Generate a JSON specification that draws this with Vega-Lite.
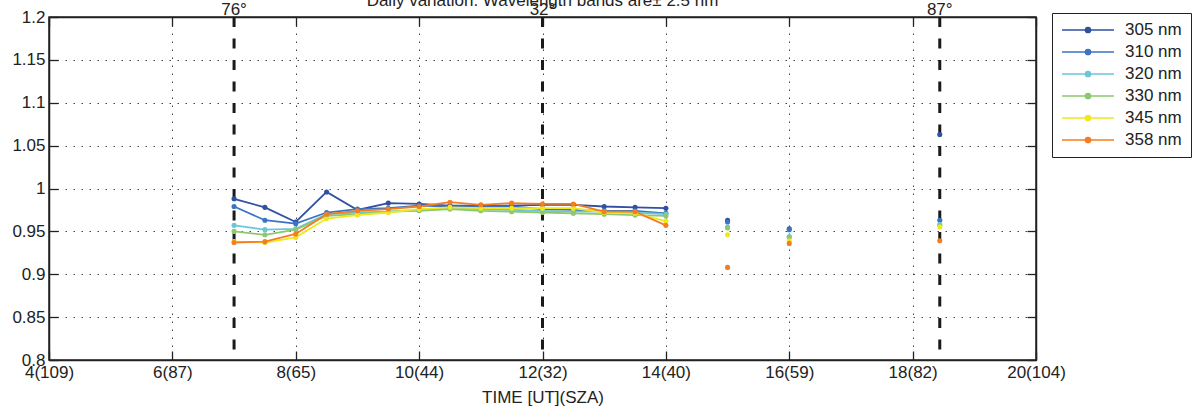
{
  "$schema": "https://vega.github.io/schema/vega-lite/v6.json",
  "width": 987,
  "height": 343,
  "autosize": "none",
  "padding": {"left": 49, "top": 17, "right": 156, "bottom": 52},
  "background": "white",
  "title": {"text": "Daily variation: Wavelength bands are± 2.5 nm", "fontSize": 17, "fontWeight": "normal", "font": "Liberation Sans", "color": "#222", "offset": -9, "anchor": "middle"},
  "config": {
    "font": "Liberation Sans",
    "view": {"stroke": "#222", "strokeWidth": 1.5},
    "axis": {"domainColor": "#222", "domainWidth": 1.5, "tickColor": "#222", "tickWidth": 1.3, "tickSize": -9, "labelColor": "#222", "labelFontSize": 17, "labelFlush": false, "titleFontSize": 17, "titleFontWeight": "normal", "titleColor": "#222", "gridColor": "#444", "gridDash": [1.5, 6.5], "gridWidth": 1, "gridOpacity": 1}
  },
  "datasets": {
    "series": [
      {"t": 7, "band": "305 nm", "v": 0.988}, {"t": 7, "band": "310 nm", "v": 0.979}, {"t": 7, "band": "320 nm", "v": 0.957}, {"t": 7, "band": "330 nm", "v": 0.950}, {"t": 7, "band": "345 nm", "v": 0.938}, {"t": 7, "band": "358 nm", "v": 0.937},
      {"t": 7.5, "band": "305 nm", "v": 0.978}, {"t": 7.5, "band": "310 nm", "v": 0.963}, {"t": 7.5, "band": "320 nm", "v": 0.952}, {"t": 7.5, "band": "330 nm", "v": 0.946}, {"t": 7.5, "band": "345 nm", "v": 0.937}, {"t": 7.5, "band": "358 nm", "v": 0.938},
      {"t": 8, "band": "305 nm", "v": 0.961}, {"t": 8, "band": "310 nm", "v": 0.959}, {"t": 8, "band": "320 nm", "v": 0.953}, {"t": 8, "band": "330 nm", "v": 0.952}, {"t": 8, "band": "345 nm", "v": 0.943}, {"t": 8, "band": "358 nm", "v": 0.947},
      {"t": 8.5, "band": "305 nm", "v": 0.996}, {"t": 8.5, "band": "310 nm", "v": 0.972}, {"t": 8.5, "band": "320 nm", "v": 0.970}, {"t": 8.5, "band": "330 nm", "v": 0.968}, {"t": 8.5, "band": "345 nm", "v": 0.965}, {"t": 8.5, "band": "358 nm", "v": 0.970},
      {"t": 9, "band": "305 nm", "v": 0.975}, {"t": 9, "band": "310 nm", "v": 0.976}, {"t": 9, "band": "320 nm", "v": 0.972}, {"t": 9, "band": "330 nm", "v": 0.970}, {"t": 9, "band": "345 nm", "v": 0.969}, {"t": 9, "band": "358 nm", "v": 0.974},
      {"t": 9.5, "band": "305 nm", "v": 0.983}, {"t": 9.5, "band": "310 nm", "v": 0.977}, {"t": 9.5, "band": "320 nm", "v": 0.973}, {"t": 9.5, "band": "330 nm", "v": 0.973}, {"t": 9.5, "band": "345 nm", "v": 0.972}, {"t": 9.5, "band": "358 nm", "v": 0.976},
      {"t": 10, "band": "305 nm", "v": 0.982}, {"t": 10, "band": "310 nm", "v": 0.980}, {"t": 10, "band": "320 nm", "v": 0.975}, {"t": 10, "band": "330 nm", "v": 0.974}, {"t": 10, "band": "345 nm", "v": 0.976}, {"t": 10, "band": "358 nm", "v": 0.979},
      {"t": 10.5, "band": "305 nm", "v": 0.980}, {"t": 10.5, "band": "310 nm", "v": 0.979}, {"t": 10.5, "band": "320 nm", "v": 0.977}, {"t": 10.5, "band": "330 nm", "v": 0.976}, {"t": 10.5, "band": "345 nm", "v": 0.978}, {"t": 10.5, "band": "358 nm", "v": 0.984},
      {"t": 11, "band": "305 nm", "v": 0.980}, {"t": 11, "band": "310 nm", "v": 0.979}, {"t": 11, "band": "320 nm", "v": 0.976}, {"t": 11, "band": "330 nm", "v": 0.974}, {"t": 11, "band": "345 nm", "v": 0.977}, {"t": 11, "band": "358 nm", "v": 0.981},
      {"t": 11.5, "band": "305 nm", "v": 0.980}, {"t": 11.5, "band": "310 nm", "v": 0.979}, {"t": 11.5, "band": "320 nm", "v": 0.975}, {"t": 11.5, "band": "330 nm", "v": 0.973}, {"t": 11.5, "band": "345 nm", "v": 0.977}, {"t": 11.5, "band": "358 nm", "v": 0.983},
      {"t": 12, "band": "305 nm", "v": 0.981}, {"t": 12, "band": "310 nm", "v": 0.976}, {"t": 12, "band": "320 nm", "v": 0.974}, {"t": 12, "band": "330 nm", "v": 0.972}, {"t": 12, "band": "345 nm", "v": 0.977}, {"t": 12, "band": "358 nm", "v": 0.982},
      {"t": 12.5, "band": "305 nm", "v": 0.981}, {"t": 12.5, "band": "310 nm", "v": 0.975}, {"t": 12.5, "band": "320 nm", "v": 0.973}, {"t": 12.5, "band": "330 nm", "v": 0.971}, {"t": 12.5, "band": "345 nm", "v": 0.977}, {"t": 12.5, "band": "358 nm", "v": 0.982},
      {"t": 13, "band": "305 nm", "v": 0.979}, {"t": 13, "band": "310 nm", "v": 0.974}, {"t": 13, "band": "320 nm", "v": 0.973}, {"t": 13, "band": "330 nm", "v": 0.970}, {"t": 13, "band": "345 nm", "v": 0.972}, {"t": 13, "band": "358 nm", "v": 0.973},
      {"t": 13.5, "band": "305 nm", "v": 0.978}, {"t": 13.5, "band": "310 nm", "v": 0.974}, {"t": 13.5, "band": "320 nm", "v": 0.972}, {"t": 13.5, "band": "330 nm", "v": 0.969}, {"t": 13.5, "band": "345 nm", "v": 0.971}, {"t": 13.5, "band": "358 nm", "v": 0.973},
      {"t": 14, "band": "305 nm", "v": 0.977}, {"t": 14, "band": "310 nm", "v": 0.971}, {"t": 14, "band": "320 nm", "v": 0.970}, {"t": 14, "band": "330 nm", "v": 0.968}, {"t": 14, "band": "345 nm", "v": 0.962}, {"t": 14, "band": "358 nm", "v": 0.957},
      {"t": 15, "band": "305 nm", "v": 0.963}, {"t": 15, "band": "310 nm", "v": 0.961}, {"t": 15, "band": "320 nm", "v": 0.955}, {"t": 15, "band": "330 nm", "v": 0.954}, {"t": 15, "band": "345 nm", "v": 0.946}, {"t": 15, "band": "358 nm", "v": 0.908},
      {"t": 16, "band": "305 nm", "v": 0.953}, {"t": 16, "band": "310 nm", "v": 0.952}, {"t": 16, "band": "320 nm", "v": 0.944}, {"t": 16, "band": "330 nm", "v": 0.943}, {"t": 16, "band": "345 nm", "v": 0.939}, {"t": 16, "band": "358 nm", "v": 0.936},
      {"t": 18.44, "band": "305 nm", "v": 1.063}, {"t": 18.44, "band": "310 nm", "v": 0.963}, {"t": 18.44, "band": "320 nm", "v": 0.958}, {"t": 18.44, "band": "330 nm", "v": 0.957}, {"t": 18.44, "band": "345 nm", "v": 0.955}, {"t": 18.44, "band": "358 nm", "v": 0.939}
    ],
    "marks": [
      {"t": 7, "label": "76°"},
      {"t": 12, "label": "32°"},
      {"t": 18.44, "label": "87°"}
    ]
  },
  "resolve": {"axis": {"x": "independent", "y": "independent"}},
  "layer": [
    {
      "data": {"name": "marks"},
      "mark": {"type": "rule", "strokeWidth": 3, "strokeDash": [10, 11.5], "color": "#1a1a1a"},
      "encoding": {
        "x": {"field": "t", "type": "quantitative", "scale": {"domain": [4, 20], "nice": false, "zero": false}, "axis": null}
      }
    },
    {
      "data": {"name": "series"},
      "transform": [{"filter": "datum.t <= 14"}],
      "mark": {"type": "line", "strokeWidth": 1.8},
      "encoding": {
        "x": {"field": "t", "type": "quantitative", "scale": {"domain": [4, 20], "nice": false, "zero": false},
          "axis": {"orient": "bottom", "values": [4, 6, 8, 10, 12, 14, 16, 18, 20], "grid": true, "title": "TIME [UT](SZA)", "labelPadding": 13, "titlePadding": 9,
            "labelExpr": "['','','','','4(109)','','6(87)','','8(65)','','10(44)','','12(32)','','14(40)','','16(59)','','18(82)','','20(104)'][datum.value]"}},
        "y": {"field": "v", "type": "quantitative", "scale": {"domain": [0.8, 1.2], "nice": false, "zero": false},
          "axis": {"orient": "left", "values": [0.8, 0.85, 0.9, 0.95, 1, 1.05, 1.1, 1.15, 1.2], "grid": true, "format": "~g", "title": null, "labelPadding": 13}},
        "color": {"field": "band", "type": "nominal",
          "scale": {"domain": ["305 nm", "310 nm", "320 nm", "330 nm", "345 nm", "358 nm"], "range": ["#3050A0", "#3B74C2", "#6CC6D9", "#8DC870", "#EFE81E", "#F47D22"]},
          "legend": {"orient": "none", "legendX": 1003, "legendY": -4, "title": null,
            "symbolType": "M-1,0L1,0M0.1,0A0.1,0.1,0,1,1,-0.1,0A0.1,0.1,0,1,1,0.1,0Z",
            "symbolSize": 2704, "symbolStrokeWidth": 1.5,
            "strokeColor": "#222", "fillColor": "white", "padding": 9,
            "labelFontSize": 17, "labelColor": "#222", "labelOffset": 10, "clipHeight": 16, "rowPadding": 5,
            "encode": {"symbols": {"update": {"stroke": {"scale": "color", "field": "value"}, "fill": {"scale": "color", "field": "value"}}}}}}
      }
    },
    {
      "data": {"name": "series"},
      "mark": {"type": "point", "filled": true, "size": 26, "opacity": 1},
      "encoding": {
        "x": {"field": "t", "type": "quantitative", "axis": {"orient": "top", "values": [4, 6, 8, 10, 12, 14, 16, 18, 20], "labels": false, "title": null, "grid": false}},
        "y": {"field": "v", "type": "quantitative", "axis": {"orient": "right", "values": [0.8, 0.85, 0.9, 0.95, 1, 1.05, 1.1, 1.15, 1.2], "labels": false, "title": null, "grid": false}},
        "color": {"field": "band", "type": "nominal",
          "legend": {"orient": "none", "legendX": 1003, "legendY": -4, "title": null,
            "symbolType": "M-1,0L1,0M0.1,0A0.1,0.1,0,1,1,-0.1,0A0.1,0.1,0,1,1,0.1,0Z",
            "symbolSize": 2704, "symbolStrokeWidth": 1.5,
            "strokeColor": "#222", "fillColor": "white", "padding": 9,
            "labelFontSize": 17, "labelColor": "#222", "labelOffset": 10, "clipHeight": 16, "rowPadding": 5,
            "encode": {"symbols": {"update": {"stroke": {"scale": "color", "field": "value"}, "fill": {"scale": "color", "field": "value"}}}}}}
      }
    },
    {
      "data": {"name": "marks"},
      "mark": {"type": "text", "baseline": "alphabetic", "dy": -2, "fontSize": 17, "color": "#222"},
      "encoding": {
        "x": {"field": "t", "type": "quantitative", "axis": null},
        "y": {"datum": 1.2, "type": "quantitative", "axis": null},
        "text": {"field": "label"}
      }
    }
  ]
}
